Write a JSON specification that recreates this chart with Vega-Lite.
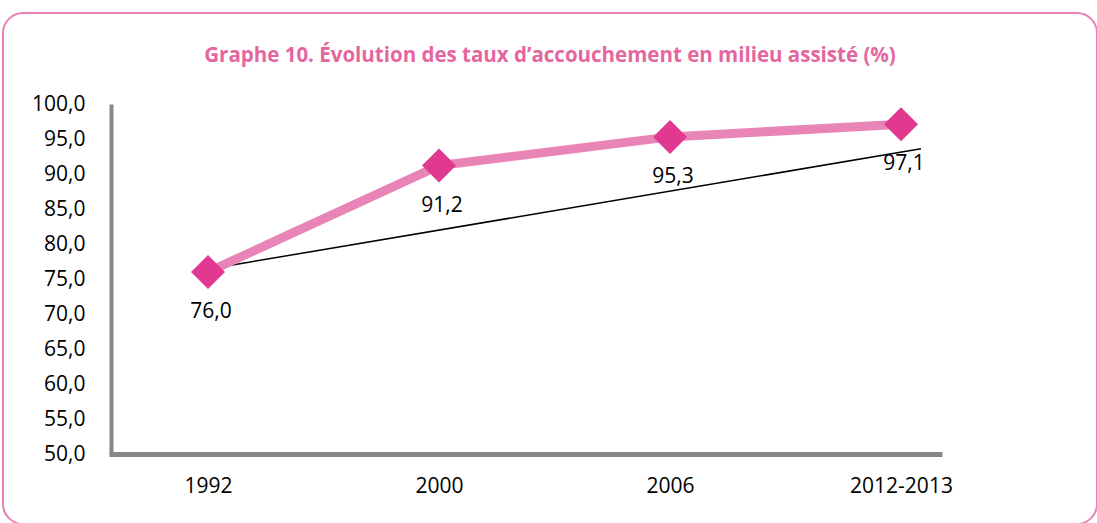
{
  "$schema": "https://vega.github.io/schema/vega-lite/v6.json",
  "autosize": {"type": "none"},
  "width": 1094,
  "height": 511,
  "padding": {"left": 3, "top": 13, "right": 0, "bottom": 0},
  "background": "white",
  "config": {
    "view": {"stroke": "#E882B6", "strokeWidth": 2, "cornerRadius": 20},
    "font": "Open Sans",
    "locale": {"number": {"decimal": ",", "thousands": " ", "grouping": [3], "currency": ["", " €"]}}
  },
  "title": {
    "text": "Graphe 10. Évolution des taux d’accouchement en milieu assisté (%)",
    "anchor": "middle",
    "offset": -69,
    "baseline": "alphabetic",
    "font": "Open Sans",
    "fontSize": 20.5,
    "fontWeight": "bold",
    "color": "#E5669F"
  },
  "datasets": {
    "taux": [
      {"periode": "1992", "taux": 76.0},
      {"periode": "2000", "taux": 91.2},
      {"periode": "2006", "taux": 95.3},
      {"periode": "2012-2013", "taux": 97.1}
    ],
    "tendance": [
      {"periode": "1992", "taux": 76.9},
      {"periode": "2012-2013", "taux": 93.6}
    ]
  },
  "data": {"name": "taux"},
  "encoding": {
    "x": {
      "field": "periode",
      "type": "ordinal",
      "scale": {"type": "point", "domain": ["1992", "2000", "2006", "2012-2013"], "range": [106, 939], "padding": 0.303, "align": 0.707},
      "axis": {"title": null, "ticks": false, "tickSize": 0, "grid": false, "domainColor": "#888888", "domainWidth": 5, "labelFontSize": 21, "labelColor": "black", "labelPadding": 21, "labelAngle": 0, "offset": -70}
    },
    "y": {
      "field": "taux",
      "type": "quantitative",
      "scale": {"domain": [50, 100], "range": [441, 91], "nice": false, "zero": false},
      "axis": {"title": null, "values": [50, 55, 60, 65, 70, 75, 80, 85, 90, 95, 100], "format": ".1f", "ticks": false, "tickSize": 0, "grid": false, "domainColor": "#888888", "domainWidth": 4, "labelFontSize": 21, "labelColor": "black", "labelPadding": 26, "offset": -108}
    }
  },
  "layer": [
    {"data": {"name": "tendance"}, "mark": {"type": "line", "color": "black", "strokeWidth": 1.5, "xOffset": 20}},
    {"mark": {"type": "line", "color": "#E884B6", "strokeWidth": 9}},
    {"mark": {"type": "point", "shape": "diamond", "filled": true, "size": 1156, "color": "#E0398F", "opacity": 1}},
    {"mark": {"type": "text", "dy": 40, "dx": 3, "fontSize": 21, "color": "black"}, "encoding": {"text": {"field": "taux", "type": "quantitative", "format": ".1f"}}}
  ]
}
